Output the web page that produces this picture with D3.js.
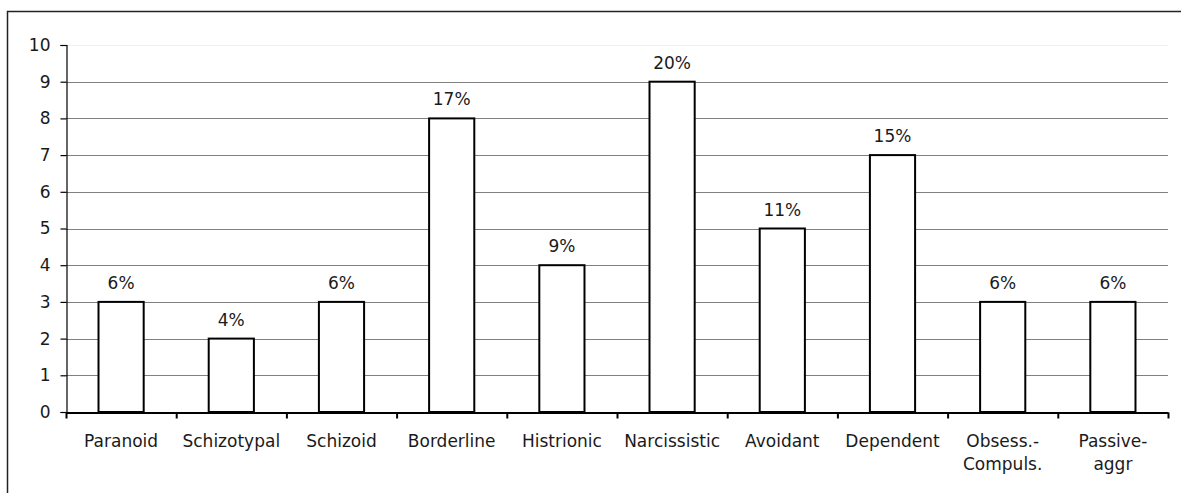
<!DOCTYPE html>
<html>
<head>
<meta charset="utf-8">
<style>
body { margin: 0; background: #fff; }
svg text { font-family: "DejaVu Sans", Verdana, sans-serif; font-size: 17px; fill: #1a1a1a; }
.grid line { stroke: #808080; stroke-width: 1; }
.bar { fill: #fff; stroke: #000; stroke-width: 2; }
</style>
</head>
<body>
<svg width="1181" height="493"></svg>
<script src="https://d3js.org/d3.v7.min.js"></script>
<script>
// personality disorder counts, with the share shown above each bar
var categories = ["Paranoid", "Schizotypal", "Schizoid", "Borderline", "Histrionic",
                  "Narcissistic", "Avoidant", "Dependent", "Obsess.-|Compuls.", "Passive-|aggr"];
var counts = [3, 2, 3, 8, 4, 9, 5, 7, 3, 3];
var percents = ["6%", "4%", "6%", "17%", "9%", "20%", "11%", "15%", "6%", "6%"];
var yTicks = [0, 1, 2, 3, 4, 5, 6, 7, 8, 9, 10];

var svg = d3.select("svg");
var plotLeft = 66, plotRight = 1168, plotTop = 45, plotBottom = 412;

// outer frame (right/bottom edges fall off the picture)
svg.append("rect")
    .attr("x", 7.5).attr("y", 11.5)
    .attr("width", 1200).attr("height", 500)
    .attr("fill", "none").attr("stroke", "#222").attr("stroke-width", 1.5);

var y = d3.scaleLinear().domain([0, 10]).range([plotBottom, plotTop]);
var x = d3.scaleBand().domain(categories).range([plotLeft, plotRight])
    .paddingInner(0.59).paddingOuter(0.295);
var xEdge = d3.scaleLinear().domain([0, categories.length]).range([plotLeft, plotRight]);

// gridlines
svg.append("g").attr("class", "grid")
  .selectAll("line")
  .data(yTicks.filter(function(d) { return d > 0; }))
  .enter().append("line")
    .attr("x1", plotLeft).attr("x2", plotRight)
    .attr("y1", function(d) { return Math.round(y(d)) + 0.5; })
    .attr("y2", function(d) { return Math.round(y(d)) + 0.5; })
    .style("stroke", function(d) { return d == 10 ? "#f0f0f0" : null; });

// y axis
var yAxis = svg.append("g")
    .attr("transform", "translate(" + (plotLeft + 0.5) + ",0)")
    .call(d3.axisLeft(y).tickValues(yTicks).tickSize(6).tickPadding(10));
yAxis.selectAll("text").style("font-size", "17px").style("font-family", null);
yAxis.attr("font-family", null).attr("font-size", null);
yAxis.selectAll("path, line").attr("stroke", "#000").attr("stroke-width", 1.2);

// bars
svg.selectAll(".bar")
  .data(counts)
  .enter().append("rect")
    .attr("class", "bar")
    .attr("x", function(d, i) { return x(categories[i]); })
    .attr("y", function(d) { return y(d); })
    .attr("width", x.bandwidth())
    .attr("height", function(d) { return plotBottom - y(d); });

// value labels
svg.selectAll(".pct")
  .data(counts)
  .enter().append("text")
    .attr("class", "pct")
    .attr("text-anchor", "middle")
    .attr("x", function(d, i) { return x(categories[i]) + x.bandwidth() / 2; })
    .attr("y", function(d) { return y(d) - 13; })
    .text(function(d, i) { return percents[i]; });

// x axis: ticks on category boundaries
var xAxis = svg.append("g")
    .attr("transform", "translate(0," + (plotBottom + 0.5) + ")")
    .call(d3.axisBottom(xEdge).ticks(categories.length).tickSize(6).tickSizeOuter(0).tickFormat(""));
xAxis.selectAll("path, line").attr("stroke", "#000").attr("stroke-width", 2);

// category labels, wrapped on "|"
var lab = svg.selectAll(".cat")
  .data(categories)
  .enter().append("text")
    .attr("class", "cat")
    .attr("text-anchor", "middle")
    .attr("x", function(d) { return x(d) + x.bandwidth() / 2; })
    .attr("y", 447);
lab.selectAll("tspan")
  .data(function(d) { return d.split("|"); })
  .enter().append("tspan")
    .attr("x", function() { return d3.select(this.parentNode).attr("x"); })
    .attr("dy", function(d, i) { return i ? 23 : 0; })
    .text(function(d) { return d; });
</script>
</body>
</html>
